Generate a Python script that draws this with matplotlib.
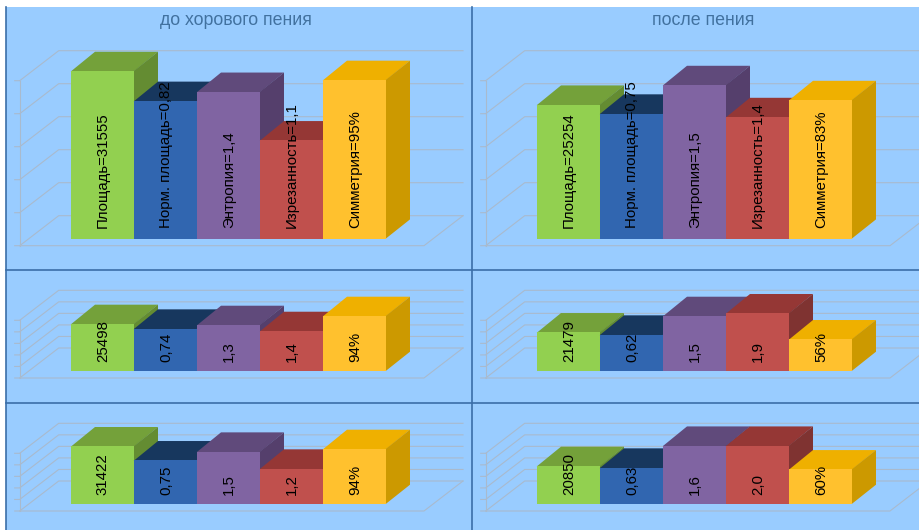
import matplotlib
matplotlib.use("Agg")
import matplotlib.pyplot as plt
from matplotlib.lines import Line2D

plt.rcParams['font.family'] = ['Liberation Sans', 'DejaVu Sans']

W, H = 920, 530

col_titles = ["до хорового пения", "после пения"]
names = ["Площадь", "Норм. площадь", "Энтропия", "Изрезанность", "Симметрия"]

# bar heights, 100 = top of the chart wall
heights_before_1 = [101.6, 83.5, 89.0, 59.6, 96.2]
heights_after_1 = [81.2, 75.8, 93.1, 73.7, 84.0]
heights_before_2 = [81.5, 73.4, 79.7, 69.3, 95.3]
heights_after_2 = [67.0, 63.0, 95.3, 100.0, 54.9]
heights_before_3 = [100.0, 75.7, 90.7, 61.3, 95.3]
heights_after_3 = [65.9, 63.0, 101.0, 101.0, 60.0]

values_before_1 = ["31555", "0,82", "1,4", "1,1", "95%"]
values_after_1 = ["25254", "0,75", "1,5", "1,4", "83%"]
values_before_2 = ["25498", "0,74", "1,3", "1,4", "94%"]
values_after_2 = ["21479", "0,62", "1,5", "1,9", "56%"]
values_before_3 = ["31422", "0,75", "1,5", "1,2", "94%"]
values_after_3 = ["20850", "0,63", "1,6", "2,0", "60%"]

front_colors = ["#92D050", "#3166B0", "#8064A2", "#C0504D", "#FFC12E"]
top_colors = ["#74A13A", "#17375E", "#604A7B", "#953735", "#EFB000"]
side_colors = ["#648C32", "#1F4A80", "#553F6C", "#7F3331", "#CC9900"]

BG = "#99CCFF"
GRID = "#A9BACD"
SEP = "#3B6EA8"
BAR_W = 63.0
DEPTH_X, DEPTH_Y = 24.3, 19.3


def draw_panel(x_left, x_right, y_top, y_bottom, x0, base, wall, heights, labels, label_pad=9.0, title=None):
    ax = fig.add_axes([x_left / W, 1 - y_bottom / H, (x_right - x_left) / W, (y_bottom - y_top) / H])
    ax.set_xlim((x_left - x0) / BAR_W, (x_right - x0) / BAR_W)
    unit = wall / 100.0  # pixels per height unit
    ax.set_ylim((base - y_bottom) / unit, (base - y_top) / unit)
    ax.set_facecolor(BG)
    ax.set_xticks([])
    ax.set_yticks([])
    for s in ax.spines.values():
        s.set_visible(False)

    # chart walls and floor
    dep_x, dep_y = DEPTH_X / BAR_W, DEPTH_Y / unit
    fl_x, fl_y = -51.0 / BAR_W, -7.0 / unit
    fl_dx, fl_dy = 39.0 / BAR_W, 30.0 / unit
    fl_right = 353.3 / BAR_W
    tick = 5.0 / BAR_W
    for g in range(0, 120, 20):
        y = fl_y + g
        ax.plot([fl_x - tick, fl_x, fl_x + fl_dx, fl_right + fl_dx],
                [y, y, y + fl_dy, y + fl_dy], color=GRID, lw=0.8, zorder=1)
    ax.plot([fl_x, fl_x], [fl_y, fl_y + 100], color=GRID, lw=0.8, zorder=1)
    ax.plot([fl_x, fl_right, fl_right + fl_dx], [fl_y, fl_y, fl_y + fl_dy], color=GRID, lw=0.8, zorder=1)

    # left to right, each box covers what is behind it
    for i, h in enumerate(heights):
        z = 2 + i
        ax.fill([i, i + 1, i + 1 + dep_x, i + dep_x], [h - 0.5 / unit, h - 0.5 / unit, h + dep_y, h + dep_y],
                color=top_colors[i], lw=0, zorder=z)
        ax.fill([i + 1, i + 1 + dep_x, i + 1 + dep_x, i + 1], [0, dep_y, h + dep_y, h],
                color=side_colors[i], lw=0, zorder=z)
        ax.bar(i + 0.5, h, width=1.0, color=front_colors[i], lw=0, zorder=z)
        ax.text(i + 0.5 + 0.7 / BAR_W, label_pad / unit, labels[i], rotation=90, ha="center", va="bottom",
                fontsize=10.8, color="black", zorder=10)

    if title:
        ax.text((236 - x0) / BAR_W if x0 < 400 else (703 - x0) / BAR_W, (base - 20.3) / unit, title,
                ha="center", va="center", fontsize=12.8, color="#41719F", zorder=10)


fig = plt.figure(figsize=(W / 100, H / 100), dpi=100, facecolor="white")

labels_before_1 = [f"{n}={v}" for n, v in zip(names, values_before_1)]
labels_after_1 = [f"{n}={v}" for n, v in zip(names, values_after_1)]

draw_panel(6, 472, 7, 270, 70.7, 238.7, 165.0, heights_before_1, labels_before_1, 11.0, col_titles[0])
draw_panel(472, 920, 7, 270, 536.7, 238.7, 165.0, heights_after_1, labels_after_1, 11.0, col_titles[1])
draw_panel(6, 472, 270, 403, 70.7, 371.0, 57.7, heights_before_2, values_before_2)
draw_panel(472, 920, 270, 403, 536.7, 371.0, 57.7, heights_after_2, values_after_2)
draw_panel(6, 472, 403, 530, 70.7, 504.0, 57.7, heights_before_3, values_before_3)
draw_panel(472, 920, 403, 530, 536.7, 504.0, 57.7, heights_after_3, values_after_3)

# panel separators
for xs, ys in [([6, 6], [7, 530]), ([472, 472], [7, 530]), ([6, 920], [270, 270]), ([6, 920], [403, 403])]:
    fig.add_artist(Line2D([x / W for x in xs], [1 - y / H for y in ys], color=SEP, lw=1.2))

fig.savefig("out.png", dpi=100)
